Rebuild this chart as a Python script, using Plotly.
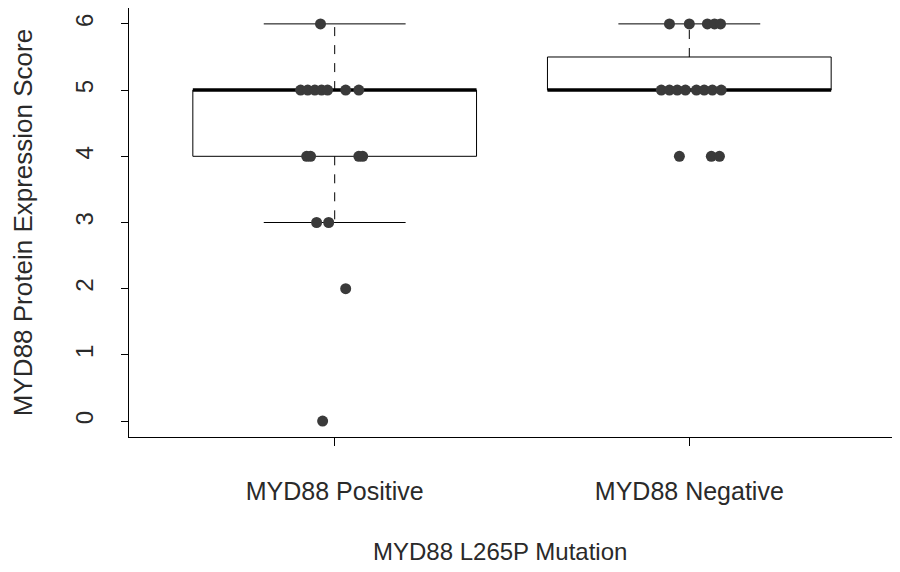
import plotly.graph_objects as go

# ---- data ----
groups = ["MYD88 Positive", "MYD88 Negative"]

pos_scores = [6, 5, 5, 5, 5, 5, 5, 5, 4, 4, 4, 4, 3, 3, 2, 0]
pos_swarm = [-0.040, -0.096, -0.076, -0.056, -0.037, -0.020, 0.031, 0.068,
             -0.079, -0.068, 0.068, 0.079, -0.051, -0.017, 0.031, -0.034]

neg_scores = [6, 6, 6, 6, 6, 5, 5, 5, 5, 5, 5, 5, 5, 4, 4, 4]
neg_swarm = [-0.056, 0.0, 0.051, 0.071, 0.088,
             -0.079, -0.056, -0.034, -0.011, 0.020, 0.042, 0.065, 0.090,
             -0.028, 0.062, 0.085]

# box statistics: lower whisker, Q1, median, Q3, upper whisker
box_lw = [3, 5]
box_q1 = [4, 5]
box_med = [5, 5]
box_q3 = [5, 5.5]
box_uw = [6, 6]

y_ticks = [0, 1, 2, 3, 4, 5, 6]
x_title = "MYD88 L265P Mutation"
y_title = "MYD88 Protein Expression Score"

fig = go.Figure()
half = 0.4
cap = 0.2
for i, g in enumerate(groups):
    c = i + 1
    fig.add_trace(go.Scatter(
        x=[c - half, c + half, c + half, c - half, c - half],
        y=[box_q1[i], box_q1[i], box_q3[i], box_q3[i], box_q1[i]],
        mode="lines", line=dict(color="black", width=1), hoverinfo="skip", showlegend=False))
    fig.add_trace(go.Scatter(
        x=[c, c, None, c, c],
        y=[box_q3[i], box_uw[i], None, box_q1[i], box_lw[i]],
        mode="lines", line=dict(color="black", width=1, dash="dash"), hoverinfo="skip", showlegend=False))
    fig.add_trace(go.Scatter(
        x=[c - cap, c + cap, None, c - cap, c + cap],
        y=[box_uw[i], box_uw[i], None, box_lw[i], box_lw[i]],
        mode="lines", line=dict(color="black", width=1), hoverinfo="skip", showlegend=False))
    fig.add_trace(go.Scatter(
        x=[c - half, c + half], y=[box_med[i], box_med[i]],
        mode="lines", line=dict(color="black", width=3.5), hoverinfo="skip", showlegend=False))

for c, scores, swarm in [(1, pos_scores, pos_swarm), (2, neg_scores, neg_swarm)]:
    fig.add_trace(go.Scatter(
        x=[c + s for s in swarm], y=scores, mode="markers",
        marker=dict(color="#3a3a3a", size=11, line=dict(width=0)),
        showlegend=False))

fam = "Liberation Sans, Arial, sans-serif"
txt = "#2a2a2a"
fig.update_layout(
    width=900, height=572,
    margin=dict(l=121, r=13, t=0, b=143),
    plot_bgcolor="white", paper_bgcolor="white",
    font=dict(family=fam, color=txt),
    xaxis=dict(range=[0.42, 2.58], tickvals=[1, 2], ticktext=groups, automargin=False,
               tickfont=dict(family=fam, size=25, color=txt), ticklabelstandoff=24,
               showgrid=False, zeroline=False, showline=True, linecolor="black",
               linewidth=1, mirror=True, ticks="outside", ticklen=8, tickcolor="black"),
    yaxis=dict(range=[-0.24, 6.24], tickvals=y_ticks, tickangle=-90, automargin=False,
               tickfont=dict(family=fam, size=24, color=txt), ticklabelstandoff=18,
               showgrid=False, zeroline=False, showline=True, linecolor="black",
               linewidth=1, mirror=True, ticks="outside", ticklen=7, tickcolor="black",
               title=dict(text=y_title, standoff=33,
                          font=dict(family=fam, size=26, color=txt))),
    annotations=[dict(text=x_title, xref="paper", yref="paper", x=0.484, y=-0.266,
                      xanchor="center", yanchor="middle", showarrow=False,
                      font=dict(family=fam, size=24, color=txt))],
)

fig.write_html("out.html")
